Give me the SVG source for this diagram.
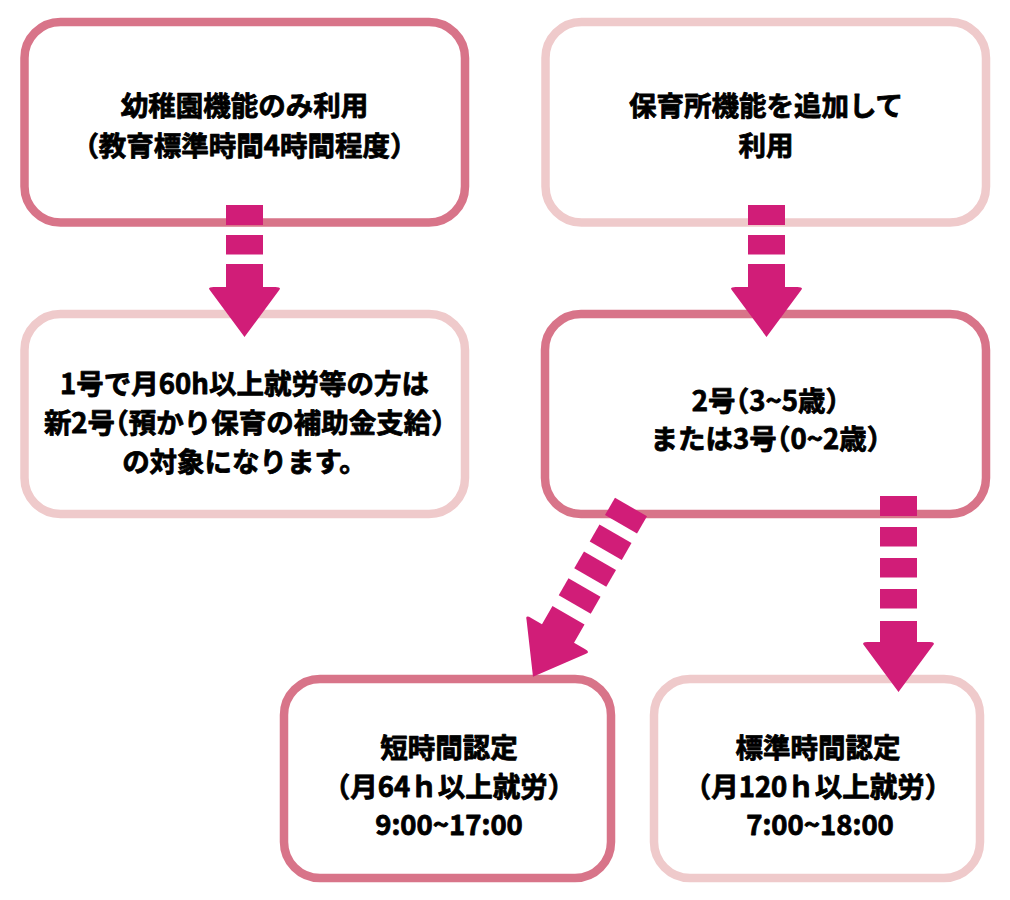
<svg xmlns="http://www.w3.org/2000/svg" xmlns:xlink="http://www.w3.org/1999/xlink" width="1010" height="900" viewBox="0 0 1010 900">
<style>
.box{fill:#fff;stroke-width:8.5}
.dark{stroke:#D87489}
.light{stroke:#EFCACB}
.t{font-family:"Noto Sans CJK JP","Noto Sans",sans-serif;font-weight:700;font-size:27.5px;text-anchor:middle;fill:#000;stroke:#000;stroke-width:0.8;stroke-linejoin:round}
.h{font-feature-settings:"halt" 1}
.arr{fill:#D11D78}
</style>
<defs>
<g id="arrowShort" class="arr">
<rect x="-18.5" y="0" width="37" height="20"/>
<rect x="-18.5" y="30" width="37" height="19.5"/>
<path d="M-18.5,59 L18.5,59 L18.5,82 L31,82 Q38,82 34,86 L0,132 L-34,86 Q-38,82 -31,82 L-18.5,82 Z"/>
</g>
<g id="arrowLong" class="arr">
<rect x="-18.5" y="0" width="37" height="20"/>
<rect x="-18.5" y="31" width="37" height="19.5"/>
<rect x="-18.5" y="62" width="37" height="19.5"/>
<rect x="-18.5" y="93" width="37" height="19.5"/>
<path d="M-18.5,125 L18.5,125 L18.5,146 L31,146 Q38,146 34,150 L0,196 L-34,150 Q-38,146 -31,146 L-18.5,146 Z"/>
</g>
</defs>
<rect width="1010" height="900" fill="#fff"/>
<g id="node-kindergarten">
<rect class="box dark" x="24.5" y="22" width="440.5" height="200.5" rx="36"/>
<text class="t" x="244.5" y="116">幼稚園機能のみ利用</text>
<text class="t" x="244.5" y="156">（教育標準時間4時間程度）</text>
</g>
<g id="node-nursery">
<rect class="box light" x="545.5" y="22" width="440.5" height="200.5" rx="36"/>
<text class="t" x="766" y="116">保育所機能を追加して</text>
<text class="t" x="766" y="156">利用</text>
</g>
<g id="node-new2">
<rect class="box light" x="24.5" y="314" width="440.5" height="200" rx="36"/>
<text class="t" x="244.5" y="393.5">1号で月60h以上就労等の方は</text>
<text class="t h" x="244.5" y="432.5">新2号（預かり保育の補助金支給）</text>
<text class="t" x="244.5" y="471.5">の対象になります。</text>
</g>
<g id="node-23">
<rect class="box dark" x="545" y="314" width="441" height="200" rx="36"/>
<text class="t h" x="765.5" y="410.5">2号（3~5歳）</text>
<text class="t h" x="765.5" y="448.5">または3号（0~2歳）</text>
</g>
<g id="node-short">
<rect class="box dark" x="284" y="679" width="327" height="199" rx="36"/>
<text class="t" x="449" y="757.5">短時間認定</text>
<text class="t" x="449" y="796.5">（月64ｈ以上就労）</text>
<text class="t" x="449" y="834.5">9:00~17:00</text>
</g>
<g id="node-standard">
<rect class="box light" x="654" y="679" width="326" height="199" rx="36"/>
<text class="t" x="818" y="757.5">標準時間認定</text>
<text class="t" x="818" y="796.5">（月120ｈ以上就労）</text>
<text class="t" x="820" y="834.5">7:00~18:00</text>
</g>
<g id="connectors">
<use xlink:href="#arrowShort" transform="translate(244.5,205)"/>
<use xlink:href="#arrowShort" transform="translate(766.5,205)"/>
<use xlink:href="#arrowLong" transform="translate(631,507) rotate(30)"/>
<use xlink:href="#arrowLong" transform="translate(898.5,496)"/>
</g>
</svg>
